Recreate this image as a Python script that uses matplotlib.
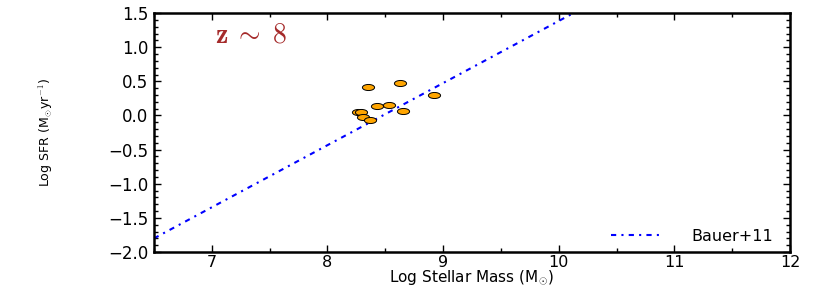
import matplotlib
matplotlib.use("Agg")
import matplotlib.pyplot as plt
from matplotlib.markers import MarkerStyle
from matplotlib.transforms import Affine2D
from matplotlib.ticker import MultipleLocator

plt.rcParams['mathtext.fontset'] = 'cm'

# data
mass = [8.35, 8.63, 8.92, 8.43, 8.53, 8.26, 8.29, 8.31, 8.37, 8.65]
sfr = [0.41, 0.47, 0.30, 0.14, 0.15, 0.05, 0.05, -0.02, -0.06, 0.06]
bauer_x = [6.5, 12.0]
bauer_y = [-1.80, 3.205]

fig = plt.figure(figsize=(8.3, 2.91), dpi=100)
ax = fig.add_axes([0.1855, 0.134, 0.7665, 0.821])

ax.plot(bauer_x, bauer_y, color='blue', linestyle=(0, (2.5, 2.5, 1, 2.5)),
        lw=1.5, label='Bauer+11', zorder=2)
mk = MarkerStyle('o', transform=Affine2D().scale(1.6, 0.8))
ax.scatter(mass, sfr, marker=mk, s=30, facecolor='orange', edgecolor='black',
           linewidths=0.7, zorder=3)

ax.set_xlim(6.5, 12)
ax.set_ylim(-2.0, 1.5)
ax.xaxis.set_major_locator(MultipleLocator(1))
ax.xaxis.set_minor_locator(MultipleLocator(0.5))
ax.yaxis.set_major_locator(MultipleLocator(0.5))
ax.yaxis.set_minor_locator(MultipleLocator(0.1))
ax.tick_params(which='both', direction='in', top=True, right=True,
               labelsize=11.5, width=1, pad=2)
ax.tick_params(axis='y', pad=4, labelsize=12)
ax.tick_params(which='major', length=5)
ax.tick_params(which='minor', length=3)
for s in ax.spines.values():
    s.set_linewidth(1.8)

ax.set_xlabel(r'Log Stellar Mass (M$_{\odot}$)', fontsize=11)
ax.xaxis.set_label_coords(0.5, -0.07)
ax.set_ylabel(r'Log SFR (M$_{\odot}$yr$^{-1}$)', fontsize=9)
ax.yaxis.set_label_coords(-0.156, 0.5)

ax.text(7.03, 1.07, r'$\mathbf{z}\;\sim\;8$', color='#a52a2a', fontsize=20)
leg = ax.legend(loc='lower right', frameon=False, fontsize=11.5,
                handlelength=3.2, handletextpad=1.8,
                borderaxespad=0.1, bbox_to_anchor=(0.985, 0.0))

fig.savefig('out.png', dpi=100)
